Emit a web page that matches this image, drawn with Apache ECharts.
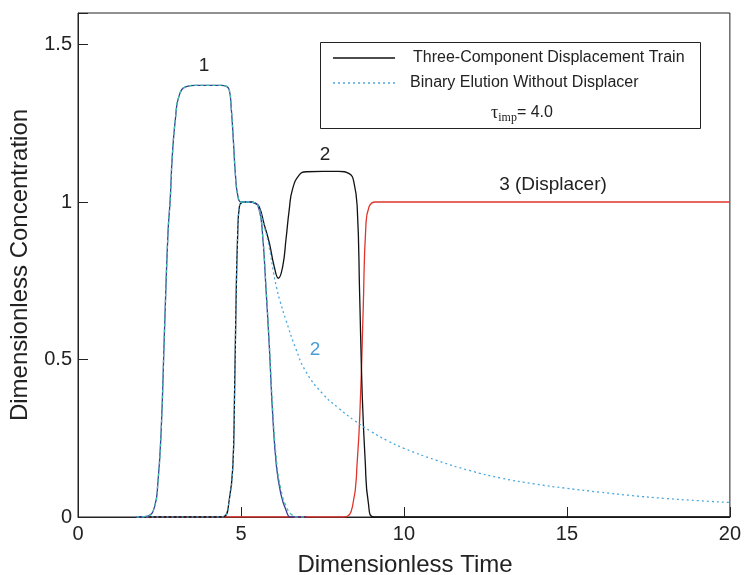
<!DOCTYPE html>
<html>
<head>
<meta charset="utf-8">
<script src="https://cdn.jsdelivr.net/npm/echarts@6/dist/echarts.min.js"></script>
<style>
  html, body { margin: 0; padding: 0; background: #fff; }
  #chart { width: 744px; height: 575px; }
</style>
</head>
<body>
<div id="chart"></div>
<script>
// Component 1 in the three-component displacement train
const trainTime1 = [1.8, 2.14, 2.35, 2.45, 2.55, 2.65, 2.76, 2.83, 2.89, 2.99, 3.11, 3.32, 3.6, 4.0, 4.4, 4.54, 4.64, 4.70, 4.77, 4.83, 4.90, 5.0, 5.2, 5.41, 5.56, 5.66, 5.77, 5.87, 5.97, 6.09, 6.22, 6.38, 6.53, 7.0];
const trainConc1 = [0, 0.003, 0.033, 0.108, 0.27, 0.58, 0.90, 1.01, 1.14, 1.266, 1.34, 1.366, 1.37, 1.37, 1.37, 1.368, 1.356, 1.30, 1.19, 1.086, 1.022, 1.0, 1.0, 0.998, 0.975, 0.90, 0.72, 0.54, 0.33, 0.16, 0.075, 0.022, 0.0, 0];

// Component 1 in binary elution (no displacer)
const binaryTime1 = [1.8, 2.14, 2.35, 2.45, 2.55, 2.65, 2.76, 2.83, 2.89, 2.99, 3.11, 3.32, 3.6, 4.0, 4.4, 4.54, 4.64, 4.70, 4.77, 4.83, 4.90, 5.0, 5.2, 5.41, 5.56, 5.66, 5.77, 5.87, 5.97, 6.09, 6.22, 6.38, 6.55, 6.74, 7.0];
const binaryConc1 = [0, 0.003, 0.033, 0.108, 0.27, 0.58, 0.90, 1.01, 1.14, 1.266, 1.34, 1.366, 1.37, 1.37, 1.37, 1.368, 1.356, 1.30, 1.19, 1.086, 1.022, 1.0, 1.0, 0.998, 0.975, 0.90, 0.73, 0.55, 0.35, 0.18, 0.09, 0.035, 0.008, 0, 0];

// Component 2 in the three-component displacement train
const trainTime2 = [1.8, 4.3, 4.49, 4.64, 4.75, 4.80, 4.85, 4.90, 4.95, 5.1, 5.3, 5.45, 5.56, 5.71, 5.87, 6.02, 6.15, 6.28, 6.38, 6.48, 6.58, 6.79, 7.0, 7.5, 8.0, 8.32, 8.47, 8.57, 8.64, 8.72, 8.81, 8.91, 9.08, 20];
const trainConc2 = [0, 0, 0.002, 0.054, 0.16, 0.37, 0.69, 0.90, 0.985, 1.0, 1.0, 0.995, 0.985, 0.93, 0.87, 0.795, 0.758, 0.795, 0.88, 0.975, 1.04, 1.086, 1.096, 1.097, 1.097, 1.09, 1.06, 0.975, 0.71, 0.39, 0.18, 0.043, 0, 0];

// Component 2 in binary elution (no displacer)
const binaryTime2 = [1.8, 4.3, 4.49, 4.64, 4.75, 4.80, 4.85, 4.90, 4.95, 5.1, 5.3, 5.45, 5.56, 5.71, 5.87, 6.0, 6.1, 6.2, 6.38, 6.68, 7.0, 7.5, 8.0, 8.5, 9.0, 9.5, 10, 11, 12, 13, 14, 15, 16, 17, 18, 19, 20];
const binaryConc2 = [0, 0, 0.002, 0.054, 0.16, 0.37, 0.69, 0.90, 0.985, 1.0, 1.0, 0.995, 0.98, 0.925, 0.855, 0.775, 0.725, 0.685, 0.625, 0.535, 0.46, 0.392, 0.345, 0.305, 0.271, 0.242, 0.218, 0.18, 0.148, 0.123, 0.105, 0.091, 0.079, 0.068, 0.059, 0.052, 0.046];

// Component 3 (displacer)
const displacerTime = [1.8, 7.5, 8.16, 8.42, 8.57, 8.67, 8.75, 8.83, 8.93, 9.13, 9.5, 20];
const displacerConc = [0, 0, 0, 0.033, 0.18, 0.39, 0.66, 0.92, 0.985, 1.0, 1.0, 1.0];

// Axis ticks
const xTicks = [0, 5, 10, 15, 20];
const yTicks = [0, 0.5, 1, 1.5];

const FONT = '"Liberation Sans", Arial, sans-serif';
const SERIF = '"Liberation Serif", "Times New Roman", serif';
const INK = '#222';
const TRAIN_COLOR = '#111111';
const BINARY_COLOR = '#4aa8e0';

function zip(xs, ys) { return xs.map((x, i) => [x, ys[i]]); }

function curve(name, xs, ys, color, type, z) {
  return {
    name: name,
    type: 'line',
    data: zip(xs, ys),
    showSymbol: false,
    symbol: 'none',
    smooth: 0.5,
    z: z,
    lineStyle: { color: color, width: 1.3, type: type },
    itemStyle: { color: color },
    emphasis: { disabled: true },
    silent: true
  };
}

function label(x, y, text, size, color) {
  return {
    type: 'text', x: x, y: y, z: 6,
    style: { text: text, font: size + 'px ' + FONT, fill: color, textAlign: 'center', textVerticalAlign: 'middle' }
  };
}

const chart = echarts.init(document.getElementById('chart'), null, { renderer: 'canvas' });

chart.setOption({
  animation: false,
  backgroundColor: '#fff',
  grid: {
    left: 78, right: 12, top: 13, bottom: 58,
    show: true, borderColor: INK, borderWidth: 1, backgroundColor: 'transparent'
  },
  xAxis: {
    type: 'value', min: 0, max: 20, interval: 5,
    axisLine: { show: true, lineStyle: { color: INK, width: 1 } },
    axisTick: { show: true, inside: true, length: 10, lineStyle: { color: INK } },
    axisLabel: {
      color: INK, fontFamily: FONT, fontSize: 20, margin: 7,
      formatter: v => (xTicks.indexOf(v) >= 0 ? String(v) : '')
    },
    splitLine: { show: false }
  },
  yAxis: {
    type: 'value', min: 0, max: 1.6, interval: 0.5,
    axisLine: { show: true, lineStyle: { color: INK, width: 1 } },
    axisTick: { show: true, inside: true, length: 10, lineStyle: { color: INK } },
    axisLabel: {
      color: INK, fontFamily: FONT, fontSize: 20, margin: 6,
      formatter: v => (yTicks.indexOf(v) >= 0 ? String(v) : '')
    },
    splitLine: { show: false }
  },
  graphic: [
    // legend box
    {
      type: 'rect', left: 320, top: 42, z: 5,
      shape: { width: 380, height: 86 },
      style: { fill: '#fff', stroke: INK, lineWidth: 1 }
    },
    {
      type: 'line', z: 6,
      shape: { x1: 333, y1: 58, x2: 395, y2: 58 },
      style: { stroke: TRAIN_COLOR, lineWidth: 1.3 }
    },
    {
      type: 'text', x: 413, y: 58, z: 6,
      style: { text: 'Three-Component Displacement Train', font: '16px ' + FONT, fill: INK, textVerticalAlign: 'middle' }
    },
    {
      type: 'line', z: 6,
      shape: { x1: 333, y1: 83, x2: 395, y2: 83 },
      style: { stroke: BINARY_COLOR, lineWidth: 1.3, lineDash: [2, 3] }
    },
    {
      type: 'text', x: 410, y: 83, z: 6,
      style: { text: 'Binary Elution Without Displacer', font: '16px ' + FONT, fill: INK, textVerticalAlign: 'middle' }
    },
    {
      type: 'text', x: 522, y: 113, z: 6,
      style: {
        text: '{t|τ}{s|imp}{n|= 4.0}',
        textAlign: 'center', textVerticalAlign: 'middle',
        rich: {
          t: { fontFamily: SERIF, fontSize: 18, fill: INK },
          s: { fontFamily: SERIF, fontSize: 12, fill: INK, padding: [9, 0, 0, 0] },
          n: { fontFamily: FONT, fontSize: 16, fill: INK }
        }
      }
    },
    // peak annotations
    label(204, 66, '1', 19, INK),
    label(325, 155, '2', 19, INK),
    label(553, 185, '3 (Displacer)', 19, INK),
    label(315, 350, '2', 19, '#4a9fd6'),
    // axis titles
    label(405, 565, 'Dimensionless Time', 24, INK),
    {
      type: 'text', x: 20, y: 265, rotation: Math.PI / 2, z: 6,
      style: { text: 'Dimensionless Concentration', font: '24px ' + FONT, fill: INK, textAlign: 'center', textVerticalAlign: 'middle' }
    }
  ],
  series: [
    curve('Displacer', displacerTime, displacerConc, '#e0342b', 'solid', 2),
    curve('Three-Component Displacement Train', trainTime2, trainConc2, TRAIN_COLOR, 'solid', 3),
    curve('Component 1 (train)', trainTime1, trainConc1, '#3a3a9c', 'solid', 3),
    curve('Component 1 (binary)', binaryTime1, binaryConc1, '#3cc4a4', [3, 3], 4),
    curve('Binary Elution Without Displacer', binaryTime2, binaryConc2, BINARY_COLOR, [2, 3], 4)
  ]
});
</script>
</body>
</html>
